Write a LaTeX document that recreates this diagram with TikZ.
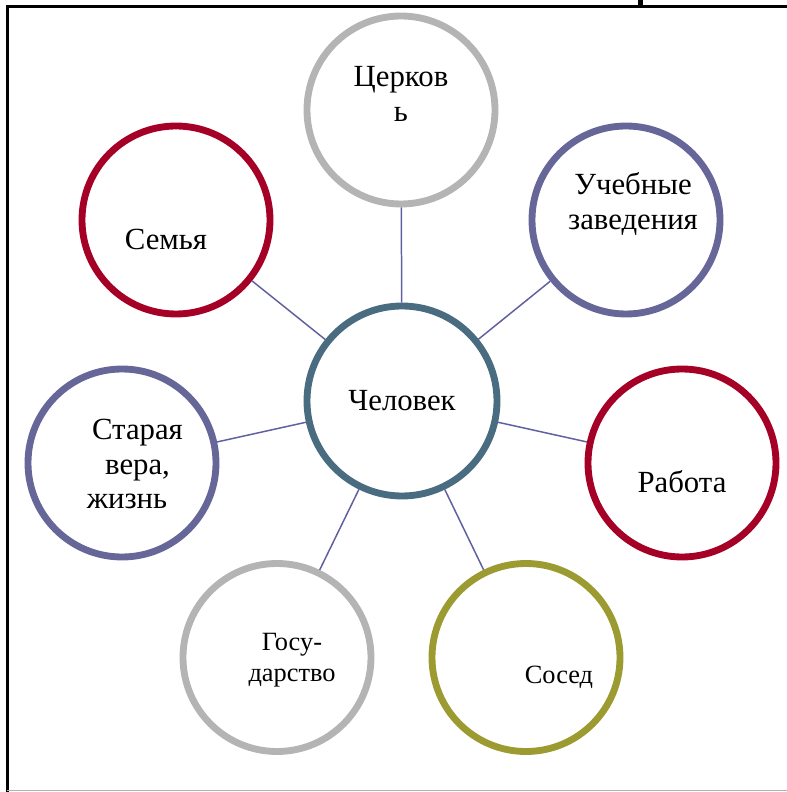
\documentclass[tikz,border=0pt]{standalone}
\usepackage{fontspec}
\setmainfont{Liberation Serif}
\usepackage{xcolor}
\usetikzlibrary{arrows,shapes,positioning,calc}

\definecolor{ringgray}{RGB}{180,180,180}
\definecolor{ringred}{RGB}{165,0,38}
\definecolor{ringblue}{RGB}{102,102,153}
\definecolor{ringslate}{RGB}{74,108,128}
\definecolor{ringolive}{RGB}{155,155,50}
\definecolor{linkblue}{RGB}{96,96,160}

\begin{document}
\begin{tikzpicture}[
  ring/.style={circle, line width=3.9pt, minimum size=3.76cm, inner sep=0pt},
  txt/.style={align=center, inner sep=0pt, font=\fontsize{17.5}{20}\selectfont},
  smalltxt/.style={align=center, inner sep=0pt, font=\fontsize{15}{18}\selectfont},
  link/.style={draw=linkblue, line width=0.85pt},
  frame/.style={line width=1.7pt}
]
\useasboundingbox (0,0) rectangle (15.74,15.84);

% Frame
\draw[frame] (0.15,0) -- (0.15,15.71) -- (15.74,15.71);
\draw[line width=2.8pt] (12.81,15.71) -- (12.81,15.84);
\draw[gray!60, line width=0.6pt] (0.15,0.03) -- (15.74,0.03);

% Circles
\node[ring, draw=ringslate, minimum size=3.8cm] (chelovek) at (8.04,7.82) {};
\node[ring, draw=ringgray] (cerkov) at (8.02,13.64) {};
\node[ring, draw=ringred] (semya) at (3.52,11.44) {};
\node[ring, draw=ringblue] (ucheba) at (12.52,11.44) {};
\node[ring, draw=ringblue] (vera) at (2.44,6.58) {};
\node[ring, draw=ringred] (rabota) at (13.64,6.58) {};
\node[ring, draw=ringgray] (gosudarstvo) at (5.54,2.69) {};
\node[ring, draw=ringolive] (sosed) at (10.52,2.69) {};

% Texts
\node[txt] (chelovek-t) at (chelovek) {Человек};
\node[txt] (cerkov-t) at ($(cerkov)+(0,0.32)$) {Церков\\ь};
\node[txt] (semya-t) at ($(semya)+(-0.2,-0.38)$) {Семья};
\node[txt] (ucheba-t) at ($(ucheba)+(0.14,0.32)$) {Учебные\\заведения};
\node[txt, font=\fontsize{17.5}{19.5}\selectfont] (vera-t) at ($(vera)+(0.31,-0.02)$) {Старая\\вера,\\жизнь\hspace*{0.42cm}};
\node[txt] (rabota-t) at ($(rabota)+(0,-0.38)$) {Работа};
\node[smalltxt] (gosudarstvo-t) at ($(gosudarstvo)+(0.3,-0.05)$) {Госу-\\дарство};
\node[smalltxt] (sosed-t) at ($(sosed)+(0.66,-0.4)$) {Сосед};

% Links
\draw[link] (chelovek) -- (cerkov);
\draw[link] (chelovek) -- (semya);
\draw[link] (chelovek) -- (ucheba);
\draw[link] (chelovek) -- (vera);
\draw[link] (chelovek) -- (rabota);
\draw[link] (chelovek) -- (gosudarstvo);
\draw[link] (chelovek) -- (sosed);

\end{tikzpicture}
\end{document}
